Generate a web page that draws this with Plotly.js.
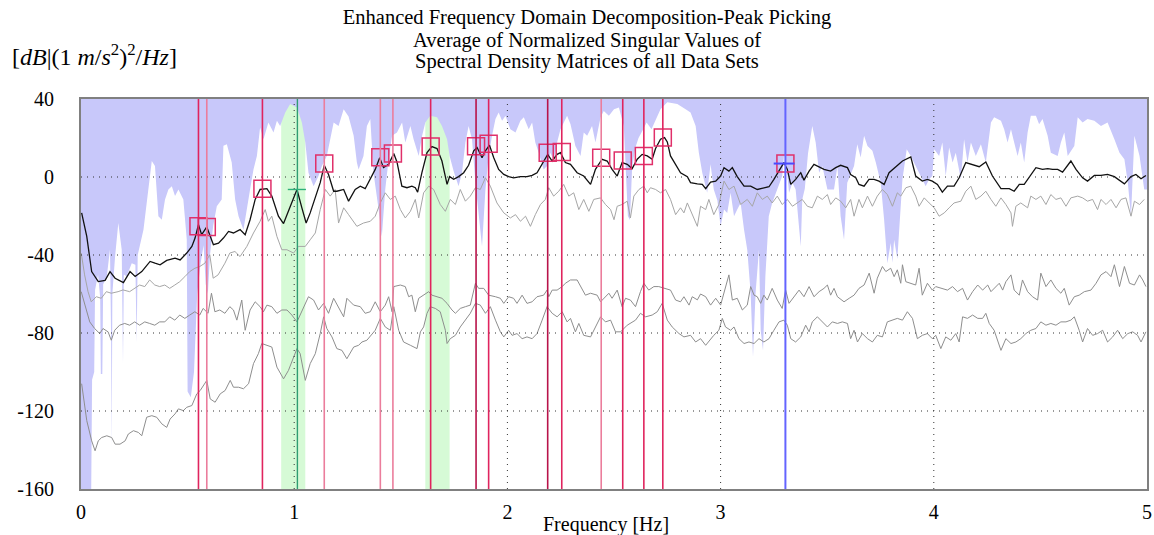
<!DOCTYPE html>
<html>
<head>
<meta charset="utf-8">
<script src="https://cdn.plot.ly/plotly-3.0.1.min.js"></script>
<style>html,body{margin:0;padding:0;background:#fff;}#chart{width:1154px;height:535px;}</style>
</head>
<body>
<div id="chart"></div>
<script>
// ---------- data (frequency [Hz], value [dB]) ----------
const sv1 = [[0.003,-18.4],[0.027,-30.5],[0.05,-48.5],[0.081,-53.6],[0.113,-53],[0.136,-48.5],[0.16,-51.9],[0.199,-54.2],[0.23,-48.5],[0.254,-51],[0.285,-48.5],[0.324,-43.3],[0.347,-44.2],[0.371,-45],[0.402,-42.8],[0.441,-41.6],[0.465,-42.5],[0.496,-39],[0.52,-35.6],[0.535,-31.3],[0.551,-24.4],[0.566,-29.6],[0.59,-25.6],[0.621,-34.7],[0.645,-33.9],[0.668,-31.3],[0.692,-27.9],[0.715,-28.7],[0.746,-27],[0.77,-29.6],[0.793,-21.9],[0.817,-11.5],[0.84,-6.4],[0.872,-6.0],[0.895,-9.8],[0.926,-20.1],[0.95,-23.9],[0.973,-17.6],[1.013,-6.4],[1.036,-15.8],[1.056,-23.6],[1.075,-18.4],[1.099,-10.7],[1.122,-2.9],[1.141,6.0],[1.161,1.3],[1.185,-7.3],[1.2,-7.3],[1.232,-6.4],[1.255,-12.4],[1.286,-6.4],[1.31,-4.7],[1.333,-6.0],[1.357,-1.2],[1.38,3.9],[1.401,9.9],[1.419,4.8],[1.443,6.5],[1.467,12.0],[1.482,7.7],[1.505,-4.7],[1.529,-5.5],[1.552,-4.7],[1.568,-5.5],[1.579,-7.8],[1.599,2.2],[1.623,12.5],[1.646,15.6],[1.67,14.6],[1.693,8.2],[1.717,-3.8],[1.729,0.2],[1.748,-1.2],[1.771,0.2],[1.795,2.2],[1.818,6.0],[1.842,13.4],[1.858,15.1],[1.881,9.9],[1.897,13.4],[1.916,16.3],[1.936,9.9],[1.959,3.9],[1.983,1.3],[2.006,0.2],[2.029,-0.4],[2.061,0.2],[2.092,0.2],[2.116,0.8],[2.139,2.2],[2.17,8.2],[2.189,11.6],[2.21,8.2],[2.233,11.6],[2.249,12.5],[2.272,7.4],[2.296,6.5],[2.327,2.2],[2.358,0.5],[2.39,-3.8],[2.413,3.9],[2.444,9.1],[2.468,8.2],[2.491,3.9],[2.515,0.5],[2.538,7.4],[2.562,6.5],[2.585,4.3],[2.609,9.1],[2.632,11.6],[2.656,10.8],[2.679,9.1],[2.695,14.6],[2.718,19.4],[2.737,20.2],[2.75,18.0],[2.765,10.8],[2.789,6.5],[2.812,2.2],[2.844,0.2],[2.859,-2.9],[2.891,-3.5],[2.914,-3.8],[2.93,-6.0],[2.953,-2.6],[2.977,-2.1],[3.0,0.5],[3.016,4.8],[3.039,3.0],[3.055,4.8],[3.078,0.2],[3.11,-4.7],[3.141,-4.7],[3.172,-6.4],[3.203,-5.5],[3.227,-5.0],[3.25,-1.2],[3.274,3.0],[3.297,7.4],[3.313,3.9],[3.329,-3.8],[3.352,-1.2],[3.376,2.2],[3.391,-1.6],[3.415,3.0],[3.438,6.5],[3.462,5.3],[3.485,3.9],[3.516,3.0],[3.54,4.8],[3.563,6.0],[3.595,4.8],[3.61,1.3],[3.634,-0.4],[3.649,-3.8],[3.673,-4.7],[3.696,-1.2],[3.72,-1.2],[3.743,-2.1],[3.767,-3.8],[3.79,2.2],[3.814,4.3],[3.837,6.5],[3.853,8.2],[3.892,10.3],[3.915,0.5],[3.946,-2.1],[3.97,-1.2],[3.993,-2.1],[4.017,-3.8],[4.04,-7.8],[4.064,-4.7],[4.095,-4.7],[4.119,-0.4],[4.15,7.4],[4.182,6.5],[4.213,5.3],[4.244,7.7],[4.275,0.5],[4.315,-6.0],[4.354,-6.0],[4.377,-7.3],[4.401,-3.8],[4.424,-3.8],[4.455,1.3],[4.479,4.8],[4.51,3.9],[4.534,4.3],[4.557,3.9],[4.581,3.9],[4.604,2.5],[4.643,8.2],[4.667,3.9],[4.698,-0.4],[4.721,-2.1],[4.753,0.8],[4.784,0.8],[4.815,1.3],[4.847,0.2],[4.871,-1.6],[4.894,-3.5],[4.925,0.2],[4.948,1.3],[4.972,-0.9],[4.995,0.8]];

const sv2 = [[0.001,-39.0],[0.017,-50.2],[0.033,-58.8],[0.048,-64.0],[0.072,-61.4],[0.095,-62.2],[0.119,-58.8],[0.142,-59.6],[0.174,-58.8],[0.197,-57.9],[0.228,-58.8],[0.252,-57.1],[0.275,-55.4],[0.299,-56.2],[0.322,-52.8],[0.346,-55.4],[0.369,-56.2],[0.393,-55.4],[0.416,-57.1],[0.44,-55.4],[0.463,-53.7],[0.487,-51.1],[0.51,-48.5],[0.534,-46.8],[0.557,-45.9],[0.581,-44.2],[0.596,-41.6],[0.604,-39.9],[0.62,-51.9],[0.643,-50.2],[0.675,-44.2],[0.698,-39.0],[0.722,-38.2],[0.746,-40.8],[0.778,-35.6],[0.809,-28.7],[0.84,-22.7],[0.864,-16.7],[0.879,-22.7],[0.895,-20.1],[0.919,-30.5],[0.942,-37.3],[0.966,-37.3],[0.997,-39.0],[1.02,-35.6],[1.052,-35.6],[1.075,-32.2],[1.099,-28.7],[1.122,-16.7],[1.146,-6.4],[1.169,-9.8],[1.192,-6.4],[1.208,-23.6],[1.232,-15.8],[1.255,-19.3],[1.294,-25.3],[1.325,-23.6],[1.357,-22.7],[1.38,-20.1],[1.404,-13.3],[1.427,-8.1],[1.451,-11.5],[1.474,-9.8],[1.498,-16.7],[1.521,-21.0],[1.545,-17.6],[1.568,-11.5],[1.584,-21.0],[1.607,-8.1],[1.631,-4.7],[1.654,-6.4],[1.685,-14.1],[1.709,-17.6],[1.732,-11.5],[1.756,-14.1],[1.779,-6.4],[1.803,-12.4],[1.826,-9.8],[1.85,-5.5],[1.873,-6.4],[1.897,-0.4],[1.92,-4.7],[1.951,-13.3],[1.983,-18.4],[2.014,-21.0],[2.038,-19.3],[2.061,-22.7],[2.085,-20.1],[2.108,-25.3],[2.131,-19.3],[2.155,-14.1],[2.178,-11.5],[2.194,-5.5],[2.217,-9.8],[2.241,-7.3],[2.264,-3.8],[2.288,-9.8],[2.311,-8.1],[2.335,-16.7],[2.358,-11.5],[2.382,-17.6],[2.405,-11.5],[2.437,-10.7],[2.46,-14.1],[2.484,-16.7],[2.5,-21.9],[2.515,-15.0],[2.538,-14.1],[2.562,-12.4],[2.577,-21.0],[2.593,-9.8],[2.617,-6.4],[2.64,-4.7],[2.656,-8.1],[2.671,-5.5],[2.695,-6.4],[2.718,-8.1],[2.742,-6.4],[2.765,-11.5],[2.789,-19.3],[2.812,-15.8],[2.828,-18.4],[2.844,-13.3],[2.867,-19.3],[2.891,-25.3],[2.906,-15.0],[2.93,-16.7],[2.945,-11.5],[2.968,-19.3],[2.992,-14.1],[3.016,-2.1],[3.039,-6.4],[3.063,-4.7],[3.094,-14.1],[3.125,-11.5],[3.149,-15.0],[3.172,-8.1],[3.196,-11.5],[3.219,-9.8],[3.242,-13.3],[3.266,-9.8],[3.289,-14.1],[3.313,-11.5],[3.337,-15.0],[3.36,-13.3],[3.383,-11.5],[3.407,-15.0],[3.43,-15.8],[3.454,-9.8],[3.477,-11.5],[3.501,-9.0],[3.516,-14.1],[3.54,-10.7],[3.563,-12.4],[3.587,-15.8],[3.61,-11.5],[3.626,-20.1],[3.649,-11.5],[3.665,-15.8],[3.689,-9.8],[3.712,-15.0],[3.735,-9.8],[3.759,-6.4],[3.782,-9.0],[3.806,-15.0],[3.829,-8.1],[3.845,-9.8],[3.869,-5.5],[3.892,-4.7],[3.915,-9.8],[3.931,-15.0],[3.955,-10.7],[3.978,-13.3],[4.002,-15.8],[4.025,-20.1],[4.049,-18.4],[4.072,-15.8],[4.095,-13.3],[4.127,-12.4],[4.15,-7.3],[4.174,-4.7],[4.197,-11.5],[4.221,-9.8],[4.244,-7.3],[4.268,-11.5],[4.291,-15.0],[4.315,-10.7],[4.338,-14.1],[4.362,-18.4],[4.369,-25.3],[4.385,-15.0],[4.408,-13.3],[4.44,-15.8],[4.455,-9.8],[4.479,-11.5],[4.502,-9.8],[4.526,-14.1],[4.549,-9.0],[4.573,-11.5],[4.596,-10.7],[4.62,-15.0],[4.643,-10.7],[4.675,-9.8],[4.698,-10.7],[4.721,-12.4],[4.745,-11.5],[4.768,-16.7],[4.784,-11.5],[4.808,-14.1],[4.831,-11.5],[4.855,-15.8],[4.878,-11.5],[4.901,-10.7],[4.925,-20.1],[4.941,-12.4],[4.965,-14.1],[4.987,-11.5]];

const sv3 = [[0.001,-58.8],[0.017,-65.5],[0.041,-74.3],[0.064,-77.7],[0.088,-80.3],[0.103,-77.7],[0.127,-79.4],[0.142,-83.7],[0.158,-78.6],[0.181,-76.0],[0.205,-75.1],[0.228,-76.0],[0.252,-74.3],[0.275,-76.0],[0.299,-74.3],[0.322,-75.1],[0.346,-76.0],[0.369,-74.3],[0.393,-74.3],[0.416,-71.7],[0.44,-73.4],[0.463,-70.8],[0.487,-72.5],[0.51,-70.8],[0.534,-69.1],[0.557,-70.8],[0.573,-67.4],[0.596,-69.9],[0.612,-59.6],[0.628,-69.1],[0.651,-68.2],[0.675,-69.9],[0.698,-66.5],[0.715,-68.2],[0.731,-73.4],[0.754,-63.1],[0.77,-78.6],[0.793,-68.2],[0.817,-64.0],[0.84,-66.5],[0.856,-69.1],[0.872,-65.7],[0.895,-66.5],[0.919,-69.9],[0.942,-68.2],[0.966,-68.2],[0.989,-70.8],[1.013,-74.3],[1.036,-69.1],[1.067,-61.4],[1.091,-63.1],[1.114,-68.2],[1.138,-64.8],[1.161,-69.9],[1.185,-62.2],[1.208,-66.5],[1.232,-71.7],[1.247,-62.2],[1.279,-65.7],[1.31,-66.5],[1.333,-69.9],[1.357,-69.1],[1.38,-64.0],[1.404,-69.1],[1.427,-65.7],[1.443,-61.4],[1.459,-69.1],[1.467,-56.2],[1.498,-55.4],[1.521,-56.2],[1.537,-61.4],[1.552,-60.6],[1.568,-69.1],[1.584,-62.2],[1.607,-60.6],[1.631,-58.8],[1.646,-60.6],[1.67,-61.4],[1.693,-62.2],[1.717,-64.8],[1.74,-68.2],[1.756,-69.9],[1.779,-67.4],[1.803,-66.5],[1.826,-65.7],[1.85,-54.5],[1.865,-57.1],[1.889,-57.1],[1.912,-60.6],[1.944,-61.4],[1.967,-62.2],[1.983,-64.8],[2.006,-61.4],[2.029,-62.2],[2.045,-64.8],[2.069,-60.6],[2.092,-64.8],[2.116,-64.0],[2.139,-61.4],[2.17,-60.6],[2.186,-58.0],[2.194,-61.4],[2.21,-58.0],[2.233,-58.0],[2.257,-56.2],[2.272,-54.5],[2.296,-52.8],[2.327,-52.8],[2.351,-58.0],[2.366,-60.6],[2.39,-59.6],[2.421,-60.6],[2.437,-64.0],[2.452,-62.2],[2.476,-59.6],[2.491,-62.2],[2.515,-58.0],[2.538,-66.5],[2.554,-62.2],[2.577,-63.1],[2.601,-66.5],[2.624,-58.8],[2.64,-54.5],[2.663,-58.0],[2.687,-56.2],[2.71,-56.2],[2.734,-57.1],[2.765,-58.0],[2.789,-63.1],[2.812,-64.0],[2.828,-61.4],[2.852,-65.7],[2.867,-61.4],[2.891,-63.0],[2.906,-60.0],[2.93,-61.4],[2.953,-65.7],[2.977,-62.2],[3.0,-65.7],[3.024,-56.2],[3.039,-50.2],[3.055,-63.1],[3.078,-62.2],[3.102,-68.2],[3.125,-65.7],[3.141,-56.2],[3.157,-60.6],[3.172,-61.4],[3.188,-64.8],[3.203,-60.6],[3.219,-63.1],[3.242,-57.1],[3.266,-63.1],[3.289,-67.4],[3.305,-58.0],[3.321,-64.8],[3.344,-61.4],[3.368,-58.0],[3.391,-61.4],[3.415,-56.2],[3.438,-61.4],[3.462,-58.8],[3.485,-57.1],[3.501,-55.4],[3.516,-60.6],[3.532,-57.1],[3.548,-61.4],[3.579,-64.0],[3.603,-62.2],[3.626,-60.6],[3.649,-57.1],[3.673,-55.4],[3.697,-49.3],[3.72,-59.6],[3.735,-51.9],[3.759,-45.9],[3.775,-48.5],[3.798,-46.8],[3.814,-51.1],[3.829,-47.6],[3.845,-54.5],[3.853,-45.0],[3.869,-53.7],[3.892,-54.5],[3.915,-55.4],[3.931,-46.8],[3.946,-60.6],[3.97,-54.5],[3.993,-58.0],[4.009,-56.2],[4.033,-57.1],[4.064,-58.0],[4.088,-56.2],[4.111,-58.8],[4.135,-57.1],[4.158,-63.1],[4.182,-58.8],[4.206,-55.4],[4.229,-58.0],[4.253,-55.4],[4.268,-58.8],[4.291,-56.2],[4.307,-54.5],[4.323,-58.0],[4.338,-53.7],[4.362,-50.2],[4.377,-58.0],[4.401,-60.6],[4.416,-52.8],[4.44,-58.8],[4.463,-61.4],[4.487,-63.1],[4.502,-49.3],[4.526,-56.2],[4.549,-52.8],[4.573,-57.1],[4.596,-59.6],[4.612,-57.1],[4.635,-65.7],[4.659,-61.4],[4.682,-60.6],[4.706,-58.8],[4.737,-58.0],[4.761,-54.5],[4.784,-50.2],[4.808,-48.5],[4.831,-51.1],[4.847,-45.0],[4.871,-56.2],[4.894,-45.9],[4.918,-54.5],[4.941,-55.4],[4.965,-50.2],[4.98,-52.8],[4.995,-56.2]];

const sv4 = [[0.003,-106.0],[0.027,-124.9],[0.05,-135.3],[0.066,-140.4],[0.081,-135.3],[0.097,-133.6],[0.121,-132.7],[0.144,-133.6],[0.16,-137.0],[0.183,-137.0],[0.207,-135.3],[0.222,-131.8],[0.246,-130.1],[0.269,-131.0],[0.285,-132.7],[0.308,-123.2],[0.332,-122.4],[0.355,-123.2],[0.379,-126.6],[0.402,-128.4],[0.418,-124.1],[0.441,-121.5],[0.457,-118.9],[0.48,-119.8],[0.496,-118.1],[0.52,-117.2],[0.543,-111.2],[0.559,-109.5],[0.59,-104.3],[0.606,-113.8],[0.629,-115.5],[0.653,-111.2],[0.676,-109.5],[0.7,-104.3],[0.715,-107.8],[0.739,-107.8],[0.762,-108.6],[0.786,-106.0],[0.809,-95.7],[0.832,-90.6],[0.848,-85.4],[0.872,-86.3],[0.895,-87.2],[0.919,-97.5],[0.95,-103.5],[0.973,-99.2],[0.997,-92.3],[1.013,-88.0],[1.028,-90.6],[1.052,-104.3],[1.075,-95.7],[1.099,-90.6],[1.122,-80.3],[1.138,-71.7],[1.153,-77.7],[1.177,-82.0],[1.2,-88.0],[1.224,-88.9],[1.247,-93.2],[1.279,-87.2],[1.302,-86.3],[1.318,-84.6],[1.341,-83.7],[1.365,-80.3],[1.38,-78.6],[1.404,-72.5],[1.427,-76.9],[1.451,-78.6],[1.467,-66.5],[1.49,-78.6],[1.513,-84.6],[1.545,-86.3],[1.576,-88.0],[1.592,-79.4],[1.607,-76.9],[1.623,-69.9],[1.638,-66.5],[1.662,-67.4],[1.685,-69.1],[1.709,-78.6],[1.717,-85.4],[1.732,-82.9],[1.756,-81.2],[1.779,-76.9],[1.803,-73.4],[1.826,-69.9],[1.85,-64.8],[1.873,-65.7],[1.897,-69.9],[1.92,-66.5],[1.944,-73.4],[1.967,-79.4],[1.983,-82.0],[2.006,-78.6],[2.022,-81.2],[2.045,-80.3],[2.069,-82.9],[2.092,-82.0],[2.116,-82.9],[2.139,-80.3],[2.163,-73.4],[2.186,-66.5],[2.21,-69.9],[2.233,-71.7],[2.257,-69.1],[2.28,-74.3],[2.296,-72.5],[2.319,-79.4],[2.335,-75.1],[2.358,-81.2],[2.39,-82.0],[2.413,-76.9],[2.437,-71.7],[2.46,-74.3],[2.484,-73.4],[2.507,-79.4],[2.531,-79.4],[2.562,-76.0],[2.577,-75.1],[2.601,-73.4],[2.624,-69.9],[2.648,-71.7],[2.679,-70.8],[2.703,-69.1],[2.726,-64.8],[2.75,-73.4],[2.773,-76.9],[2.805,-80.3],[2.828,-82.0],[2.859,-81.2],[2.883,-84.6],[2.906,-82.9],[2.93,-86.3],[2.953,-82.9],[2.968,-81.2],[2.992,-78.6],[3.008,-72.5],[3.023,-76.9],[3.047,-78.6],[3.063,-76.9],[3.086,-82.9],[3.11,-85.4],[3.133,-84.6],[3.157,-85.4],[3.18,-82.9],[3.203,-84.6],[3.227,-82.9],[3.25,-78.6],[3.274,-74.3],[3.297,-73.4],[3.313,-76.0],[3.329,-82.9],[3.352,-84.6],[3.376,-82.0],[3.399,-76.0],[3.415,-79.4],[3.43,-74.3],[3.454,-71.7],[3.477,-74.3],[3.501,-76.9],[3.524,-74.3],[3.548,-75.1],[3.571,-74.3],[3.595,-75.1],[3.61,-82.9],[3.626,-78.6],[3.642,-84.6],[3.665,-80.3],[3.689,-82.9],[3.712,-84.6],[3.735,-81.2],[3.759,-82.0],[3.782,-74.3],[3.806,-73.4],[3.829,-72.5],[3.853,-73.4],[3.876,-69.1],[3.9,-72.5],[3.923,-82.9],[3.946,-81.2],[3.97,-80.3],[3.993,-82.9],[4.009,-81.2],[4.033,-88.0],[4.056,-82.0],[4.08,-83.7],[4.103,-80.3],[4.119,-84.6],[4.135,-71.7],[4.158,-72.5],[4.182,-70.8],[4.206,-72.5],[4.229,-72.5],[4.244,-69.9],[4.26,-75.1],[4.283,-78.6],[4.315,-88.9],[4.338,-82.9],[4.362,-85.4],[4.385,-84.6],[4.408,-82.9],[4.432,-80.3],[4.455,-78.6],[4.479,-77.7],[4.502,-74.3],[4.526,-76.0],[4.549,-75.1],[4.573,-76.0],[4.596,-74.3],[4.62,-74.3],[4.643,-73.4],[4.659,-71.7],[4.682,-78.6],[4.698,-84.6],[4.721,-77.7],[4.745,-81.2],[4.768,-80.3],[4.792,-78.6],[4.815,-84.6],[4.839,-82.0],[4.862,-78.6],[4.886,-82.9],[4.91,-80.3],[4.933,-79.4],[4.956,-81.2],[4.972,-84.6],[4.995,-79.4]];

// lower edge of the shaded (lavender) indicator region
const shadeEdge = [[0,-160],[0.048,-160],[0.052,-104],[0.062,-100],[0.066,-58],[0.08,-50],[0.09,-62],[0.093,-101],[0.1,-101],[0.104,-55],[0.121,-51],[0.136,-37],[0.141,-80],[0.144,-139],[0.147,-60],[0.16,-40.7],[0.175,-23.6],[0.191,-37.3],[0.197,-96],[0.201,-50],[0.214,-51],[0.238,-44.2],[0.255,-45],[0.261,-85],[0.266,-40],[0.293,-27],[0.316,-6.4],[0.332,8.2],[0.347,5.6],[0.363,-20.1],[0.379,-21.9],[0.394,-11.5],[0.41,-6.4],[0.426,-4.7],[0.441,-9.8],[0.457,-6.4],[0.48,-11.5],[0.496,-32],[0.5,-110],[0.515,-113],[0.53,-100],[0.545,-60],[0.56,-45],[0.575,-35],[0.585,-55],[0.595,-60],[0.605,-40],[0.62,-25],[0.637,-15],[0.66,-11.5],[0.668,16],[0.684,16.8],[0.707,7.4],[0.723,-11.5],[0.739,-20.1],[0.762,-27],[0.793,-6.4],[0.809,3.9],[0.825,10.8],[0.84,25.4],[0.856,19.4],[0.879,28],[0.903,22.8],[0.919,28.8],[0.934,26.2],[0.958,33.1],[0.981,37.4],[1.013,35.7],[1.036,28],[1.052,17.7],[1.067,2.2],[1.091,-4.7],[1.114,0.5],[1.13,5.6],[1.153,10.8],[1.169,19.4],[1.185,28],[1.208,26.2],[1.232,34.8],[1.255,31],[1.279,21.1],[1.294,7.4],[1.302,3.9],[1.325,10.8],[1.341,26.2],[1.357,29.7],[1.372,2.2],[1.396,-16.7],[1.411,-30.5],[1.427,-6.4],[1.443,9.1],[1.459,21.1],[1.482,22.8],[1.506,28],[1.521,17.7],[1.545,26.2],[1.56,19.4],[1.584,10.8],[1.6,21.1],[1.615,28],[1.638,31.4],[1.67,30.6],[1.693,26.2],[1.717,19.4],[1.729,10.8],[1.748,3.0],[1.771,-4.7],[1.787,2.2],[1.803,17.7],[1.818,26.2],[1.834,19.4],[1.85,-2.9],[1.865,-20.1],[1.881,-35.6],[1.897,-6.4],[1.912,10.8],[1.928,21.1],[1.944,29.7],[1.959,33.1],[1.975,28.8],[1.991,31.4],[2.014,24.5],[2.038,22.8],[2.061,28.8],[2.077,30.6],[2.1,24.5],[2.116,28],[2.131,17.7],[2.147,12.5],[2.17,3.9],[2.186,5.6],[2.202,12.5],[2.217,8.2],[2.233,17.7],[2.249,24.5],[2.264,28],[2.28,31.4],[2.296,27.1],[2.319,15.9],[2.343,10.8],[2.358,22.8],[2.374,21.1],[2.397,26.2],[2.413,17.7],[2.437,30.6],[2.452,33.9],[2.476,31.4],[2.5,34.8],[2.523,35.7],[2.546,26.2],[2.556,3.9],[2.565,-20],[2.575,-22],[2.585,5],[2.6,15],[2.615,20],[2.629,22.8],[2.653,28],[2.676,24.5],[2.695,28.8],[2.718,34.8],[2.75,38.3],[2.797,37.4],[2.836,34.8],[2.859,33.1],[2.883,26.2],[2.898,12.5],[2.914,2.2],[2.937,-8.1],[2.953,6.5],[2.968,-6.4],[2.985,-12],[3.0,-25.3],[3.016,-16.7],[3.031,-18.4],[3.047,-8.1],[3.063,-20.1],[3.078,-16.7],[3.094,-13.3],[3.11,-27],[3.125,-37.3],[3.141,-59.6],[3.152,-92.3],[3.164,-59.6],[3.18,-37.3],[3.188,-78.6],[3.199,-89],[3.21,-51],[3.226,-20.1],[3.242,-13.3],[3.265,-6.4],[3.289,0.5],[3.298,12],[3.31,5],[3.321,-8.1],[3.337,-2.9],[3.352,-6.4],[3.36,-16.7],[3.376,-35.6],[3.383,-11.5],[3.395,-6],[3.41,12],[3.43,26.2],[3.446,17.7],[3.462,2.2],[3.477,5.6],[3.501,-6.4],[3.532,-6.4],[3.548,5.6],[3.563,-20.1],[3.579,-32.2],[3.594,-2.9],[3.626,5.6],[3.641,16.8],[3.657,10],[3.673,21.1],[3.689,15.9],[3.712,13.4],[3.728,7.4],[3.751,-2.9],[3.767,-21.9],[3.782,-44.2],[3.798,-33.9],[3.806,-44],[3.814,-32.2],[3.829,-42],[3.845,-15],[3.853,-1.2],[3.873,14.2],[3.892,10.8],[3.915,5.6],[3.939,0.5],[3.962,-4.7],[3.978,-1.2],[3.993,0.5],[4.002,14.2],[4.025,10.8],[4.04,17.7],[4.056,0.5],[4.072,15.1],[4.088,7.4],[4.103,12.5],[4.127,-1.2],[4.142,19.4],[4.158,7.4],[4.174,17.7],[4.197,10.8],[4.221,16.8],[4.244,7.4],[4.268,28],[4.283,30.6],[4.315,28.8],[4.33,24.5],[4.346,17.7],[4.362,24.5],[4.377,17.7],[4.393,10.8],[4.408,17.7],[4.424,7.4],[4.44,22.8],[4.455,31.4],[4.479,31.4],[4.494,27.1],[4.51,29.7],[4.534,21.1],[4.549,12.5],[4.581,10.8],[4.596,17.7],[4.612,22.8],[4.628,10.8],[4.659,15.9],[4.675,30.6],[4.698,28],[4.721,29.7],[4.753,28.8],[4.784,26.2],[4.815,28],[4.847,19.4],[4.871,12.5],[4.894,9.1],[4.91,-2.9],[4.925,-20.1],[4.941,21.1],[4.965,10.8],[4.987,-6.4],[5.0,-6.4]];

// picked peaks
const peakFreq = [0.551,0.590,0.851,1.141,1.404,1.463,1.640,1.853,1.912,2.189,2.255,2.440,2.541,2.640,2.729];
const peakDb   = [-25.3,-25.6,-6.0,6.9,10.1,12.0,15.6,15.8,17.0,12.5,12.8,9.9,8.4,10.8,20.3];
const peakShade = ['n','l','n','l','l','l','n','d','n','d','n','l','n','n','n'];
const selectedFreq = 3.304, selectedDb = 6.9;
const greenPeakFreq = 1.015, greenPeakDb = -6.4;
const greenBands = [[0.939,1.052],[1.615,1.729]];

const titleLines = ['Enhanced Frequency Domain Decomposition-Peak Picking',
                    'Average of Normalized Singular Values of',
                    'Spectral Density Matrices of all Data Sets'];
const xTicks = [0,1,2,3,4,5];
const xTickText = ['0','1','2','3','4','5'];
const yTicks = [40,0,-40,-80,-120,-160];
const yTickText = ['40','0','-40','-80','-120','-160'];

// ---------- build ----------
const FONT = 'Liberation Serif, Times New Roman, serif';
const col = a => a.map(p => p[0]);
const val = a => a.map(p => p[1]);

const shadeX = [0].concat(col(shadeEdge), [5]);
const shadeY = [40].concat(val(shadeEdge), [40]);

const traces = [
  {x: shadeX, y: shadeY, type:'scatter', mode:'lines', fill:'toself',
   fillcolor:'rgb(200,200,250)', line:{width:0, color:'rgba(0,0,0,0)'}, hoverinfo:'skip'},
  {x: col(sv4), y: val(sv4), type:'scatter', mode:'lines', line:{color:'#8e8e8e', width:1}},
  {x: col(sv3), y: val(sv3), type:'scatter', mode:'lines', line:{color:'#8e8e8e', width:1}},
  {x: col(sv2), y: val(sv2), type:'scatter', mode:'lines', line:{color:'#a6a6a6', width:1}},
  {x: col(sv1), y: val(sv1), type:'scatter', mode:'lines', line:{color:'#111111', width:1.3}},
  {x: peakFreq.concat([selectedFreq]), y: peakDb.concat([selectedDb]), type:'scatter', mode:'markers',
   marker:{symbol:'square-open', size:17, color:'#e0306a', line:{width:1.5, color:'#e0306a'}}}
];

const shadeColors = {n:'#e0245e', l:'#eb7d9c', d:'#b8134a'};
const shapes = [];
greenBands.forEach(b => shapes.push({type:'rect', xref:'x', yref:'paper', x0:b[0], x1:b[1], y0:0, y1:1,
  fillcolor:'#d6fad6', line:{width:0}, layer:'below'}));
[1,2,3,4].forEach(v => shapes.push({type:'line', xref:'x', yref:'y', x0:v, x1:v, y0:-160, y1:40,
  line:{color:'#333', width:1, dash:'1px,5px'}, layer:'above'}));
[0,-40,-80,-120].forEach(v => shapes.push({type:'line', xref:'x', yref:'y', x0:0, x1:5, y0:v, y1:v,
  line:{color:'#333', width:1, dash:'1px,5px'}, layer:'above'}));
peakFreq.forEach((f,i) => shapes.push({type:'line', xref:'x', yref:'y', x0:f, x1:f, y0:-160, y1:40,
  line:{color:shadeColors[peakShade[i]], width:1.6}, layer:'above'}));
shapes.push({type:'line', xref:'x', yref:'y', x0:greenPeakFreq, x1:greenPeakFreq, y0:-160, y1:40,
  line:{color:'#2f9e72', width:1.4}, layer:'above'});
shapes.push({type:'line', xref:'x', yref:'y', x0:greenPeakFreq-0.045, x1:greenPeakFreq+0.04, y0:greenPeakDb, y1:greenPeakDb,
  line:{color:'#2fb07a', width:1.4}, layer:'above'});
shapes.push({type:'line', xref:'x', yref:'y', x0:selectedFreq, x1:selectedFreq, y0:-160, y1:40,
  line:{color:'#6464ff', width:2}, layer:'above'});
shapes.push({type:'line', xref:'x', yref:'y', x0:selectedFreq-0.055, x1:selectedFreq+0.043, y0:selectedDb, y1:selectedDb,
  line:{color:'#4a4aff', width:2}, layer:'above'});

const axisBase = {showgrid:false, zeroline:false, showline:true, mirror:true, linecolor:'#808080', linewidth:2,
  ticks:'', tickmode:'array', tickfont:{family:FONT, size:20, color:'#000'}, layer:'above traces', fixedrange:true};

const TF = {family:FONT, size:20.5, color:'#000'};
const layout = {
  width:1154, height:535,
  margin:{l:81, r:7, t:99, b:46, pad:0},
  paper_bgcolor:'#ffffff', plot_bgcolor:'#ffffff',
  showlegend:false,
  title:{text:titleLines[0], font:TF, xref:'container', x:587/1154, xanchor:'center',
    yref:'container', y:1-17/535, yanchor:'middle'},
  xaxis:Object.assign({}, axisBase, {range:[0,5], tickvals:xTicks, ticktext:xTickText, ticklabelstandoff:4}),
  yaxis:Object.assign({}, axisBase, {range:[-160,40], tickvals:yTicks, ticktext:yTickText, ticklabelstandoff:21}),
  shapes:shapes,
  annotations:[
    {text:titleLines[1], xref:'paper', yref:'paper', x:(587-81)/1066, xanchor:'center',
     y:(489-40)/390, yanchor:'middle', showarrow:false, font:TF},
    {text:titleLines[2], xref:'paper', yref:'paper', x:(587-81)/1066, xanchor:'center',
     y:(489-62)/390, yanchor:'middle', showarrow:false, font:TF},
    {text:'[<i>dB</i>|(1 <i>m</i>/<i>s</i><sup>2</sup>)<sup>2</sup>/<i>Hz</i>]', xref:'paper', yref:'paper',
     x:(10-81)/1066, xanchor:'left', y:(489-55)/390, yanchor:'middle', showarrow:false,
     font:{family:FONT, size:24, color:'#000'}},
    {text:'Frequency [Hz]', xref:'paper', yref:'paper', x:(605.5-81)/1066, xanchor:'center',
     y:0, yanchor:'middle', yshift:-35, showarrow:false, font:{family:FONT, size:20, color:'#000'}}
  ]
};

Plotly.newPlot('chart', traces, layout, {displayModeBar:false, staticPlot:true});
</script>
</body>
</html>
